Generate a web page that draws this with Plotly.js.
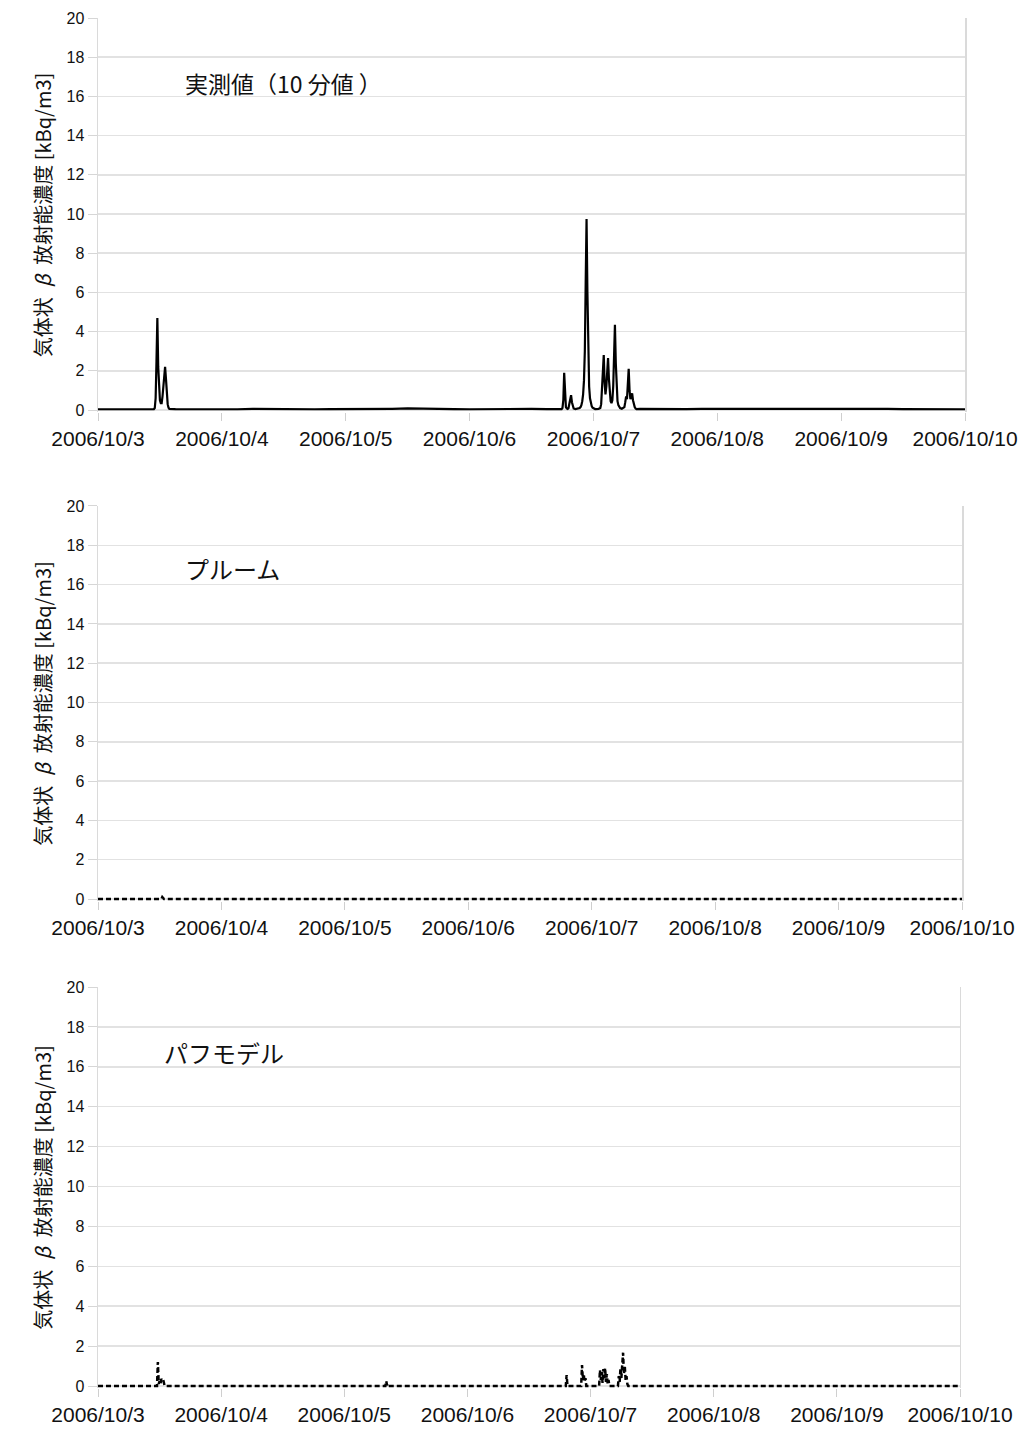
<!DOCTYPE html>
<html>
<head>
<meta charset="utf-8">
<script src="https://cdn.plot.ly/plotly-3.0.1.min.js"></script>
<style>html,body{margin:0;padding:0;background:#fff;}#chart{width:1027px;height:1430px;}</style>
</head>
<body>
<div id="chart"></div>
<script>
// ---- Data ----
var panelTitles = ["実測値（10 分値 ）", "プルーム", "パフモデル"];
var yTitle = "気体状\u2002<i>β</i>\u2002放射能濃度\u00a0[kBq/m3]";
var xRange = ["2006-10-03 00:00", "2006-10-10 00:00"];

// Measured values (10-minute values)
var measuredTime = [
 "2006-10-03 00:00","2006-10-03 03:00","2006-10-03 06:00","2006-10-03 09:00","2006-10-03 10:50",
 "2006-10-03 11:00","2006-10-03 11:10","2006-10-03 11:20","2006-10-03 11:30","2006-10-03 11:40",
 "2006-10-03 11:50","2006-10-03 12:00","2006-10-03 12:10","2006-10-03 12:20","2006-10-03 12:30",
 "2006-10-03 12:40","2006-10-03 12:50","2006-10-03 13:00","2006-10-03 13:10","2006-10-03 13:20",
 "2006-10-03 13:30","2006-10-03 13:40","2006-10-03 13:50","2006-10-03 15:00","2006-10-03 18:00",
 "2006-10-03 21:00",
 "2006-10-04 00:00","2006-10-04 03:00","2006-10-04 06:00","2006-10-04 09:00","2006-10-04 12:00",
 "2006-10-04 15:00","2006-10-04 18:00","2006-10-04 21:00",
 "2006-10-05 00:00","2006-10-05 03:00","2006-10-05 06:00","2006-10-05 09:00","2006-10-05 12:00",
 "2006-10-05 15:00","2006-10-05 18:00","2006-10-05 21:00",
 "2006-10-06 00:00","2006-10-06 03:00","2006-10-06 06:00","2006-10-06 09:00","2006-10-06 12:00",
 "2006-10-06 15:00","2006-10-06 17:50",
 "2006-10-06 18:00","2006-10-06 18:10","2006-10-06 18:20","2006-10-06 18:30","2006-10-06 18:40",
 "2006-10-06 18:50","2006-10-06 19:00","2006-10-06 19:10","2006-10-06 19:20","2006-10-06 19:30",
 "2006-10-06 19:40","2006-10-06 19:50","2006-10-06 20:00","2006-10-06 20:10","2006-10-06 20:30",
 "2006-10-06 21:00","2006-10-06 21:10","2006-10-06 21:20","2006-10-06 21:30","2006-10-06 21:40",
 "2006-10-06 21:50","2006-10-06 22:00","2006-10-06 22:10","2006-10-06 22:20","2006-10-06 22:30",
 "2006-10-06 22:40","2006-10-06 22:50","2006-10-06 23:00","2006-10-06 23:10","2006-10-06 23:20",
 "2006-10-06 23:30","2006-10-06 23:40","2006-10-06 23:50",
 "2006-10-07 00:00","2006-10-07 00:20","2006-10-07 01:00","2006-10-07 01:20","2006-10-07 01:30",
 "2006-10-07 01:40","2006-10-07 01:50","2006-10-07 02:00","2006-10-07 02:10","2006-10-07 02:20",
 "2006-10-07 02:30","2006-10-07 02:40","2006-10-07 02:50","2006-10-07 03:00","2006-10-07 03:10",
 "2006-10-07 03:20","2006-10-07 03:30","2006-10-07 03:40","2006-10-07 03:50","2006-10-07 04:00",
 "2006-10-07 04:10","2006-10-07 04:20","2006-10-07 04:30","2006-10-07 04:40","2006-10-07 04:50",
 "2006-10-07 05:00","2006-10-07 05:10","2006-10-07 05:30","2006-10-07 05:50","2006-10-07 06:00",
 "2006-10-07 06:10","2006-10-07 06:20","2006-10-07 06:30","2006-10-07 06:40","2006-10-07 06:50",
 "2006-10-07 07:00","2006-10-07 07:10","2006-10-07 07:20","2006-10-07 07:30","2006-10-07 07:40",
 "2006-10-07 07:50","2006-10-07 08:00","2006-10-07 08:10","2006-10-07 08:20","2006-10-07 09:00",
 "2006-10-07 12:00","2006-10-07 15:00","2006-10-07 18:00","2006-10-07 21:00",
 "2006-10-08 00:00","2006-10-08 03:00","2006-10-08 06:00","2006-10-08 09:00","2006-10-08 12:00",
 "2006-10-08 15:00","2006-10-08 18:00","2006-10-08 21:00",
 "2006-10-09 00:00","2006-10-09 03:00","2006-10-09 06:00","2006-10-09 09:00","2006-10-09 12:00",
 "2006-10-09 15:00","2006-10-09 18:00","2006-10-09 21:00",
 "2006-10-10 00:00"
];
var measuredValue = [
 0.04,0.05,0.04,0.06,0.05,
 0.1,0.6,2.5,4.7,2.2,
 0.9,0.5,0.35,0.35,0.7,
 1.4,2.0,2.2,1.6,0.7,
 0.3,0.12,0.06,0.05,0.04,
 0.05,
 0.05,0.04,0.06,0.05,0.07,
 0.05,0.04,0.05,
 0.05,0.06,0.04,0.06,0.08,
 0.06,0.05,0.05,
 0.04,0.05,0.05,0.04,0.06,
 0.05,0.05,
 0.1,0.5,1.9,0.6,0.15,
 0.08,0.06,0.1,0.3,0.6,
 0.76,0.4,0.15,0.08,0.05,
 0.07,0.08,0.1,0.15,0.25,
 0.45,0.8,1.5,3.0,6.5,
 9.75,6.0,2.5,1.2,0.6,
 0.35,0.2,0.12,
 0.08,0.05,0.06,0.1,0.3,
 1.0,2.0,2.8,1.4,0.8,
 1.2,2.0,2.65,1.6,0.8,
 0.45,0.35,0.5,1.2,2.8,
 4.35,2.4,1.0,0.45,0.25,
 0.15,0.1,0.07,0.1,0.15,
 0.4,0.7,0.55,1.2,2.1,
 1.0,0.55,0.7,0.85,0.5,
 0.3,0.15,0.08,0.05,0.06,
 0.05,0.06,0.05,0.06,
 0.06,0.07,0.08,0.07,0.09,
 0.08,0.07,0.08,
 0.07,0.06,0.07,0.06,0.05,
 0.05,0.04,0.05,
 0.04
];

// Plume model
var plumeTime = ["2006-10-03 00:00","2006-10-03 12:20","2006-10-03 12:30","2006-10-03 12:40","2006-10-03 12:50","2006-10-10 00:00"];
var plumeValue = [0, 0, 0.1, 0.05, 0, 0];

// Puff model
var puffTime = [
 "2006-10-03 00:00","2006-10-03 11:30","2006-10-03 11:40","2006-10-03 11:50","2006-10-03 12:00",
 "2006-10-03 12:10","2006-10-03 12:20","2006-10-03 12:30","2006-10-03 12:40","2006-10-03 12:50",
 "2006-10-03 13:00",
 "2006-10-05 08:00","2006-10-05 08:10","2006-10-05 08:20","2006-10-05 08:30","2006-10-05 08:40",
 "2006-10-06 19:10","2006-10-06 19:20","2006-10-06 19:30",
 "2006-10-06 22:10","2006-10-06 22:20","2006-10-06 22:30","2006-10-06 22:40","2006-10-06 22:50",
 "2006-10-06 23:00","2006-10-06 23:10",
 "2006-10-07 01:40","2006-10-07 01:50","2006-10-07 02:00","2006-10-07 02:10","2006-10-07 02:20",
 "2006-10-07 02:30","2006-10-07 02:40","2006-10-07 02:50","2006-10-07 03:00","2006-10-07 03:10",
 "2006-10-07 03:20","2006-10-07 03:30","2006-10-07 03:40",
 "2006-10-07 05:20","2006-10-07 05:30","2006-10-07 05:40","2006-10-07 05:50","2006-10-07 06:00",
 "2006-10-07 06:10","2006-10-07 06:20","2006-10-07 06:30","2006-10-07 06:40","2006-10-07 06:50",
 "2006-10-07 07:00","2006-10-07 07:10","2006-10-07 07:20",
 "2006-10-10 00:00"
];
var puffValue = [
 0,0,1.2,0.1,0.25,
 0.1,0.35,0.3,0.35,0.05,
 0,
 0,0.25,0.05,0.12,0,
 0,0.55,0,
 0,1.05,0.3,0.6,0.2,
 0.4,0,
 0,0.8,0.3,0.7,0.15,
 0.85,0.4,0.9,0.2,0.6,
 0.1,0.3,0,
 0,0.5,0.2,0.9,0.4,
 1.2,1.67,0.6,1.0,0.3,
 0.5,0.1,0,
 0
];

// ---- Styling ----
var baseFont = "Liberation Sans, Arial, 'Noto Sans CJK JP', sans-serif";
var jpFont = "'Noto Sans CJK JP', 'Liberation Sans', sans-serif";
var gridC = "#e2e2e2";

function xAxis(domain, anchor) {
  return {
    type: "date", range: xRange, domain: domain, anchor: anchor,
    tickmode: "linear", tick0: "2006-10-03", dtick: 86400000,
    tickformat: "%Y/%m/%-d", showgrid: false, zeroline: false,
    showline: false, ticks: "outside", ticklen: 8, tickcolor: "#cfcfcf", tickwidth: 1,
    tickfont: {family: baseFont, size: 21, color: "#111"}
  };
}
function yAxis(domain, anchor) {
  return {
    range: [-0.1, 20], domain: domain, anchor: anchor,
    tickmode: "linear", tick0: 0, dtick: 2,
    showgrid: true, gridcolor: gridC, gridwidth: 1.5, zeroline: false,
    showline: true, linecolor: "#dadada", linewidth: 1.5, mirror: true,
    ticks: "outside", ticklen: 9, tickcolor: "#d6d6d6",
    tickfont: {family: baseFont, size: 16, color: "#111"},
    title: {text: yTitle, font: {family: jpFont, size: 20, color: "#111"}, standoff: 9}
  };
}

var traces = [
  {x: measuredTime, y: measuredValue, xaxis: "x", yaxis: "y", mode: "lines",
   line: {color: "#000", width: 2.2}, hoverinfo: "skip"},
  {x: plumeTime, y: plumeValue, xaxis: "x2", yaxis: "y2", mode: "lines",
   line: {color: "#000", width: 2.5, dash: "5px,3px"}, hoverinfo: "skip"},
  {x: puffTime, y: puffValue, xaxis: "x3", yaxis: "y3", mode: "lines",
   line: {color: "#000", width: 2.5, dash: "5px,3px"}, hoverinfo: "skip"}
];

var layout = {
  width: 1027, height: 1430,
  margin: {l: 98, r: 62, t: 18, b: 42},
  paper_bgcolor: "#fff", plot_bgcolor: "#fff",
  showlegend: false,
  xaxis: xAxis([0, 1], "y"),
  yaxis: yAxis([0.71241, 1], "x"),
  xaxis2: xAxis([0, 0.99654], "y2"),
  yaxis2: yAxis([0.35547, 0.64380], "x2"),
  xaxis3: xAxis([0, 0.99423], "y3"),
  yaxis3: yAxis([0, 0.29270], "x3"),
  annotations: [
    {text: panelTitles[0], xref: "x", yref: "y", x: "2006-10-03 16:27", y: 16.7,
     xanchor: "left", yanchor: "middle", showarrow: false, font: {family: jpFont, size: 23, color: "#111"}},
    {text: panelTitles[1], xref: "x2", yref: "y2", x: "2006-10-03 16:27", y: 16.8,
     xanchor: "left", yanchor: "middle", showarrow: false, font: {family: jpFont, size: 24, color: "#111"}},
    {text: panelTitles[2], xref: "x3", yref: "y3", x: "2006-10-03 12:23", y: 16.7,
     xanchor: "left", yanchor: "middle", showarrow: false, font: {family: jpFont, size: 24, color: "#111"}}
  ]
};

Plotly.newPlot("chart", traces, layout, {staticPlot: true, displayModeBar: false});
</script>
</body>
</html>
